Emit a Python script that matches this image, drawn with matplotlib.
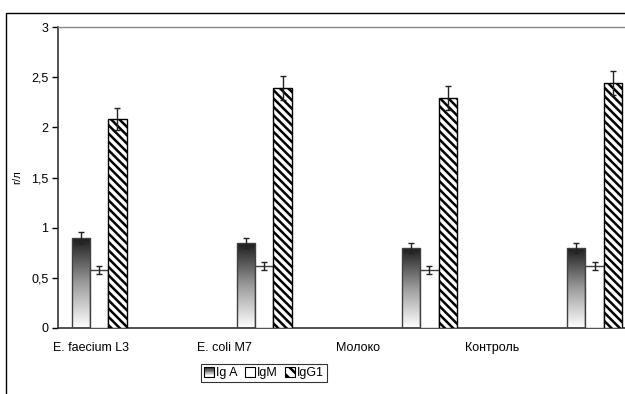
import numpy as np
import matplotlib
matplotlib.use("Agg")
import matplotlib.pyplot as plt
from matplotlib.patches import Rectangle, Patch
from matplotlib.colors import LinearSegmentedColormap
from matplotlib.legend_handler import HandlerPatch

plt.rcParams['font.family'] = ['Liberation Sans', 'DejaVu Sans']
plt.rcParams['hatch.linewidth'] = 1.8

categories = ["E. faecium L3", "E. coli M7", "Молоко", "Контроль"]
series_names = ["Ig A", "IgM", "IgG1"]
iga = [0.90, 0.85, 0.80, 0.80]
igm = [0.58, 0.62, 0.58, 0.62]
igg1 = [2.08, 2.39, 2.29, 2.44]
iga_err = [0.06, 0.05, 0.05, 0.05]
igm_err = [0.04, 0.04, 0.04, 0.04]
igg1_err = [0.11, 0.12, 0.12, 0.12]
yticks = [0, 0.5, 1, 1.5, 2, 2.5, 3]
ytick_labels = ["0", "0,5", "1", "1,5", "2", "2,5", "3"]

fig = plt.figure(figsize=(6.25, 3.94), dpi=100)
# outer frame
fig.patches.append(Rectangle((6/625, -0.1), 1.2, 1 - 13/394 + 0.1, transform=fig.transFigure,
                             fill=False, edgecolor='black', linewidth=1.0))
ax = fig.add_axes([58/625, 1 - 328/394, 1.02 - 58/625, (328 - 27)/394])

x = np.arange(len(categories))
w = 0.11
edge = '#404040'
cmap = LinearSegmentedColormap.from_list('g', ['#ffffff', '#9a9a9a', '#1a1a1a'])

bars_a = ax.bar(x - w, iga, w, color='none', edgecolor=edge, linewidth=1.0, zorder=3)
for b in bars_a:
    grad = np.linspace(0, 1, 256).reshape(-1, 1)
    im = ax.imshow(grad, cmap=cmap, aspect='auto', origin='lower',
                   extent=[b.get_x(), b.get_x() + b.get_width(), 0, b.get_height()], zorder=2)
    im.set_clip_path(b)
bars_m = ax.bar(x, igm, w, color='white', edgecolor=edge, linewidth=1.0, zorder=3)
bars_g = ax.bar(x + w, igg1, w, color='white', edgecolor='black', hatch='\\' * 4, linewidth=1.0, zorder=3)

ek = dict(fmt='none', ecolor='#222222', elinewidth=1.0, capsize=2.5, capthick=1.0, zorder=4)
ax.errorbar(x - w, iga, yerr=iga_err, **ek)
ax.errorbar(x, igm, yerr=igm_err, **ek)
ax.errorbar(x + w, igg1, yerr=igg1_err, **ek)

ax.set_xlim(-0.25, 3.26)
ax.set_ylim(0, 3)
ax.set_yticks(yticks)
ax.set_yticklabels(ytick_labels, fontsize=9)
ax.tick_params(axis='y', length=4, width=1, direction='out', pad=3)
# category labels (shifted left as in the reference)
ax.set_xticks(x * 0.81 - 0.05)
ax.set_xticklabels(categories, fontsize=9)
ax.tick_params(axis='x', length=0, pad=10)
for s in ['left', 'bottom']:
    ax.spines[s].set_color('#333333')
    ax.spines[s].set_linewidth(1.2)
for s in ['top', 'right']:
    ax.spines[s].set_color('#888888')
    ax.spines[s].set_linewidth(1.0)
ax.set_ylabel("г/л", fontsize=8, labelpad=6)


class GradHandler(HandlerPatch):
    def create_artists(self, legend, orig_handle, xdescent, ydescent, width, height, fontsize, trans):
        arts = []
        n = 8
        for i in range(n):
            c = cmap(1 - i / (n - 1))
            r = Rectangle((-xdescent, -ydescent + height * (n - 1 - i) / n), width, height / n,
                          facecolor=c, edgecolor='none', transform=trans)
            arts.append(r)
        arts.append(Rectangle((-xdescent, -ydescent), width, height, facecolor='none',
                              edgecolor='black', linewidth=0.8, transform=trans))
        return arts


h_a = Patch(facecolor='gray', edgecolor='black')
h_m = Patch(facecolor='white', edgecolor='black', linewidth=0.8)
h_g = Patch(facecolor='white', edgecolor='black', hatch='\\' * 3, linewidth=0.8)
leg = fig.legend([h_a, h_m, h_g], series_names, loc='center', bbox_to_anchor=(264/625, 1 - 373/394),
                 ncol=3, fontsize=9, frameon=True, fancybox=False, edgecolor='black',
                 handlelength=0.8, handleheight=0.8, handletextpad=0.15, columnspacing=0.6,
                 borderpad=0.25, handler_map={h_a: GradHandler()})
leg.get_frame().set_linewidth(0.8)

fig.savefig("out.png", dpi=100)
